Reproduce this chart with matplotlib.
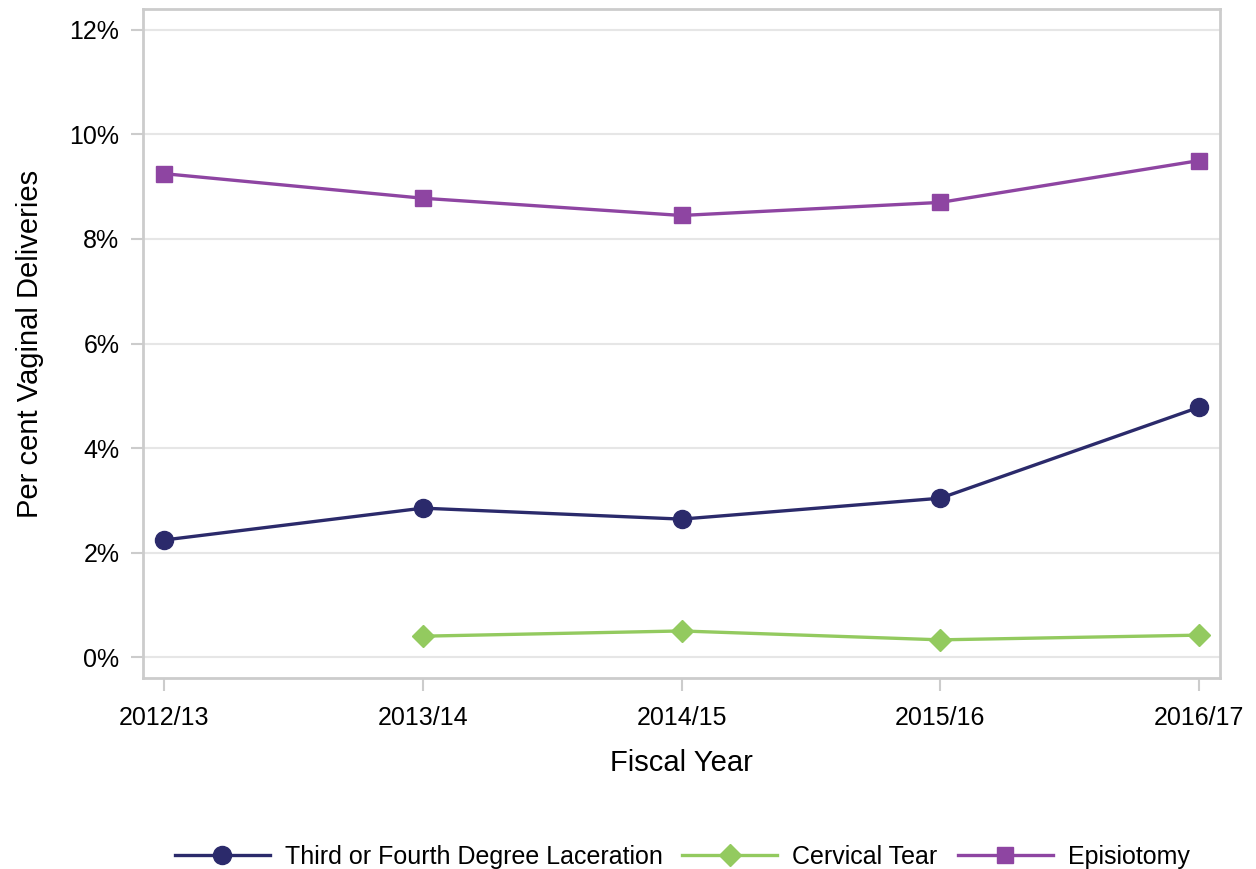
import numpy as np
import matplotlib

matplotlib.use("Agg")
import matplotlib.pyplot as plt
from matplotlib.ticker import FuncFormatter

plt.rcParams["font.family"] = ["Liberation Sans", "DejaVu Sans"]

# Data
years = ["2012/13", "2013/14", "2014/15", "2015/16", "2016/17"]
laceration = [2.24, 2.85, 2.64, 3.04, 4.78]
cervical = [np.nan, 0.40, 0.50, 0.33, 0.42]
episiotomy = [9.25, 8.78, 8.45, 8.70, 9.50]

fig = plt.figure(figsize=(12.56, 8.69), dpi=100)
ax = fig.add_axes([0.1139, 0.2198, 0.8574, 0.7698])

x = np.arange(len(years))
ax.plot(x, laceration, color="#2B2A6B", lw=2.4, marker="o", ms=13,
        label="Third or Fourth Degree Laceration")
ax.plot(x, cervical, color="#93CA5F", lw=2.4, marker="D", ms=11,
        label="Cervical Tear")
ax.plot(x, episiotomy, color="#8E45A2", lw=2.4, marker="s", ms=11,
        label="Episiotomy")

ax.set_xlim(-0.081, 4.081)
ax.set_ylim(-0.4, 12.4)
ax.set_xticks(x)
ax.set_xticklabels(years)
ax.set_yticks(np.arange(0, 13, 2))
ax.yaxis.set_major_formatter(FuncFormatter(lambda v, p: f"{v:.0f}%"))

ax.grid(axis="y", color="#e6e6e6", lw=1.5)
ax.set_axisbelow(True)
for s in ax.spines.values():
    s.set_color("#cccccc")
    s.set_linewidth(2)
ax.tick_params(axis="both", color="#cccccc", width=1.5, length=9,
               labelsize=18)
ax.tick_params(axis="x", pad=11)
ax.tick_params(axis="y", pad=8)

ax.set_xlabel("Fiscal Year", fontsize=21, labelpad=14)
ax.set_ylabel("Per cent Vaginal Deliveries", fontsize=21, labelpad=18)

ax.legend(loc="center", bbox_to_anchor=(0.543, 0.014),
          bbox_transform=fig.transFigure, ncol=3, frameon=False,
          fontsize=18, handlelength=3.8, columnspacing=0.8,
          handletextpad=0.6)

fig.savefig("out.png", dpi=100)
